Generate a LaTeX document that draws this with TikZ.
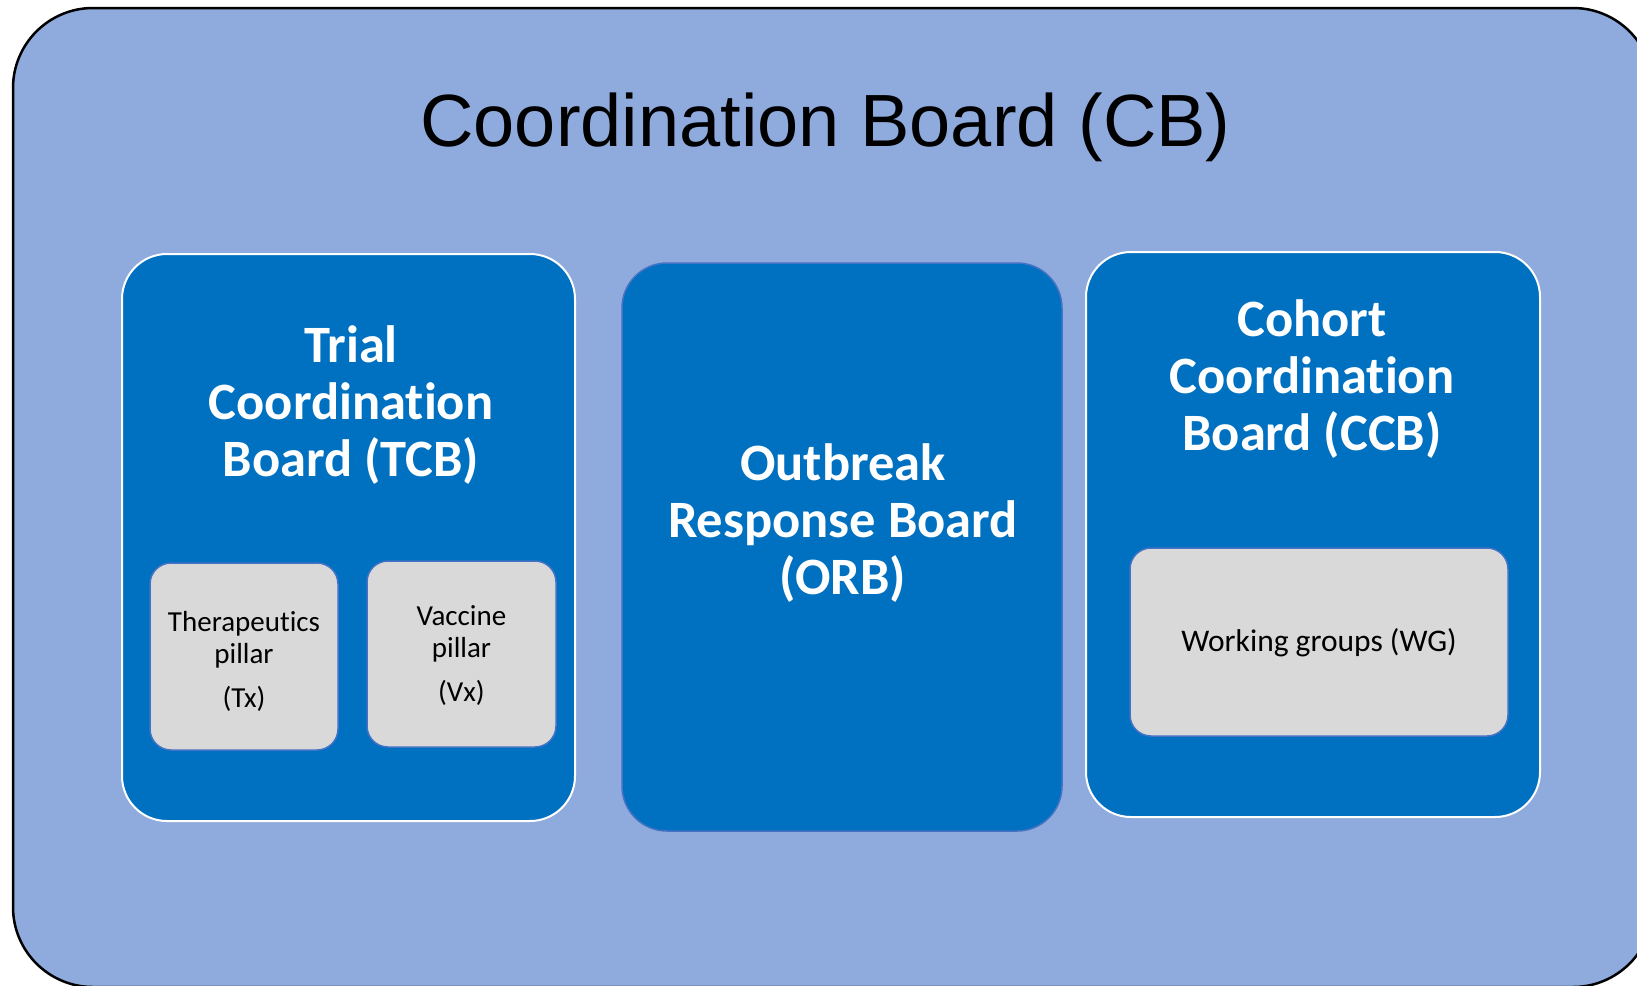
\documentclass[tikz,border=0pt]{standalone}
\usepackage{fontspec}
\setmainfont{Carlito}[Ligatures=NoCommon]
\newfontfamily\titlefont{Liberation Sans}
\usetikzlibrary{positioning}
\definecolor{cbfill}{HTML}{8FAADC}
\definecolor{boardfill}{HTML}{0070C0}
\definecolor{pillarfill}{HTML}{D9D9D9}
\definecolor{edgeblue}{HTML}{4472C4}

\begin{document}
\begin{tikzpicture}[x=1pt,y=-1pt,
    board/.style={draw=white,line width=2pt,fill=boardfill,rounded corners=45pt,inner sep=0pt},
    pillar/.style={draw=edgeblue,line width=1.5pt,fill=pillarfill,rounded corners=21pt,inner sep=0pt},
    boardtext/.style={text=white,align=center,font=\bfseries\fontsize{52.5}{57}\selectfont},
    pillartext/.style={align=center,font=\fontsize{29}{32}\selectfont}]
    \useasboundingbox (0,0) rectangle (1637,985);
    \clip (0,0) rectangle (1637,985);
    \node[draw=black,line width=2.5pt,fill=cbfill,rounded corners=80pt,inner sep=0pt,
        minimum width=1640pt,minimum height=979pt] (cb) at (833,497.5) {};
    \node[anchor=base,font=\titlefont\fontsize{74}{80}\selectfont] (cbtitle) at (825.5,146)
        {Coordination Board (CB)};
    %%
    \node[board,minimum width=453pt,minimum height=567pt] (tcb) at (348.5,537.5) {};
    \node[boardtext] (tcbtitle) at (351,405) {Trial\\Coordination\\Board (TCB)};
    \node[pillar,minimum width=188pt,minimum height=187pt] (tx) at (244,656.5) {};
    \node[pillartext] at (tx.center) [yshift=-4.5pt] (txtext) {Therapeutics\\pillar\\[12pt](Tx)};
    \node[pillar,minimum width=189pt,minimum height=186pt] (vx) at (461.5,654) {};
    \node[pillartext] at (vx.center) [yshift=-1.5pt] (vxtext) {Vaccine\\pillar\\[12pt](Vx)};
    %%
    \node[board,draw=edgeblue,line width=1.5pt,minimum width=440pt,minimum height=568pt] (orb) at (842,547) {};
    \node[boardtext] (orbtitle) at (843,523.5) {Outbreak\\Response Board\\(ORB)};
    %%
    \node[board,minimum width=454pt,minimum height=565pt] (ccb) at (1313,534.5) {};
    \node[boardtext] (ccbtitle) at (1312,379) {Cohort\\Coordination\\Board (CCB)};
    \node[pillar,minimum width=378pt,minimum height=188pt] (wg) at (1319,642) {};
    \node[anchor=base,font=\fontsize{31.5}{34}\selectfont] (wgtext) at (1319,651) {Working groups (WG)};
\end{tikzpicture}
\end{document}
